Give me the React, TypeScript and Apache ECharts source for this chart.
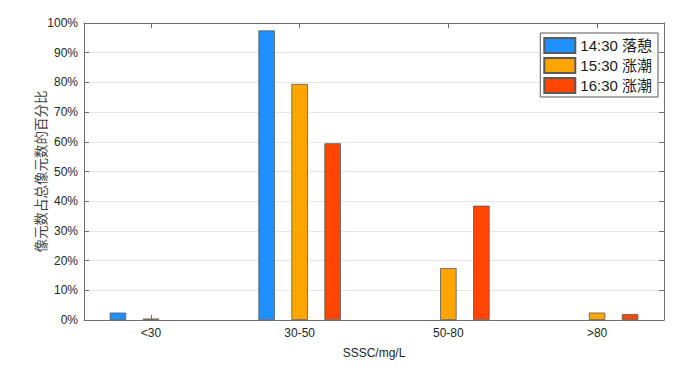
import React, { useEffect, useRef } from "react";
import * as echarts from "echarts";

const categories = ["<30", "30-50", "50-80", ">80"];
const positions = [0, 1, 2, 3];
const ebb1430 = [2.5, 97.5, 0, 0];
const flood1530 = [0.5, 79.5, 17.5, 2.5];
const flood1630 = [0, 59.5, 38.5, 2.0];
const seriesNames = ["14:30 落憩", "15:30 涨潮", "16:30 涨潮"];
const seriesColors = ["#1E90FF", "#FFA500", "#FF4500"];
const xName = "SSSC/mg/L";
const yName = "像元数占总像元数的百分比";

const AXIS_COLOR = "#6e6e6e";
const TEXT_COLOR = "#262626";
const FONT = "'Liberation Sans', Arial, 'Noto Sans CJK SC', sans-serif";

export default function App() {
  const ref = useRef<HTMLDivElement>(null);
  useEffect(() => {
    if (!ref.current) return;
    const chart = echarts.init(ref.current, undefined, { renderer: "svg" });
    const seriesData = [ebb1430, flood1530, flood1630];
    const xCommon = {
      type: "value" as const,
      min: -0.45,
      max: 3.45,
      splitLine: { show: false },
      axisLine: { show: true, onZero: false, lineStyle: { color: AXIS_COLOR, width: 1 } },
      axisTick: {
        show: true,
        inside: true,
        length: 5,
        customValues: positions,
        lineStyle: { color: AXIS_COLOR },
      },
    };
    const yCommon = {
      type: "value" as const,
      min: 0,
      max: 100,
      interval: 10,
      axisLine: { show: true, onZero: false, lineStyle: { color: AXIS_COLOR, width: 1 } },
      axisTick: { show: true, inside: true, length: 5, lineStyle: { color: AXIS_COLOR } },
    };
    chart.setOption({
      animation: false,
      backgroundColor: "#ffffff",
      textStyle: { fontFamily: FONT },
      grid: { left: 84, right: 20, top: 23, bottom: 50, containLabel: false },
      legend: {
        orient: "vertical",
        right: 26,
        top: 33,
        itemWidth: 31,
        itemHeight: 15,
        itemGap: 3,
        padding: [4, 6, 3, 3],
        backgroundColor: "#ffffff",
        borderColor: "#5a5a5a",
        borderWidth: 1,
        icon: "rect",
        textStyle: { fontSize: 15, color: "#1a1a1a", fontFamily: FONT },
        data: seriesNames,
      },
      xAxis: [
        {
          ...xCommon,
          position: "bottom",
          name: xName,
          nameLocation: "middle",
          nameGap: 27,
          nameMoveOverlap: false,
          nameTextStyle: { fontSize: 12, color: TEXT_COLOR, fontFamily: FONT },
          axisLabel: {
            show: true,
            margin: 7,
            fontSize: 12,
            color: TEXT_COLOR,
            fontFamily: FONT,
            customValues: positions,
            formatter: (v: number) => categories[Math.round(v)] ?? "",
          },
        },
        {
          ...xCommon,
          position: "top",
          axisLabel: { show: false },
        },
      ],
      yAxis: [
        {
          ...yCommon,
          position: "left",
          name: yName,
          nameLocation: "middle",
          nameGap: 37,
          nameMoveOverlap: false,
          nameTextStyle: { fontSize: 13.5, color: "#444", fontFamily: "'Noto Sans CJK SC', sans-serif" },
          splitLine: { show: true, lineStyle: { color: "#e6e6e6", width: 1 } },
          axisLabel: {
            margin: 6,
            fontSize: 12,
            color: TEXT_COLOR,
            fontFamily: FONT,
            formatter: "{value}%",
          },
        },
        {
          ...yCommon,
          position: "right",
          splitLine: { show: false },
          axisLabel: { show: false },
        },
      ],
      series: seriesNames.map((name, si) => ({
        name,
        type: "bar",
        xAxisIndex: 0,
        yAxisIndex: 0,
        barWidth: 16.5,
        barGap: "100%",
        itemStyle: { color: seriesColors[si], borderColor: "#5a5a5a", borderWidth: 0.8 },
        data: positions.map((p, i) => [p, seriesData[si][i] === 0 ? null : seriesData[si][i]]),
      })),
    });
    return () => chart.dispose();
  }, []);
  return (
    <div
      ref={ref}
      style={{ position: "fixed", left: 0, top: 0, width: 684, height: 370 }}
    />
  );
}
